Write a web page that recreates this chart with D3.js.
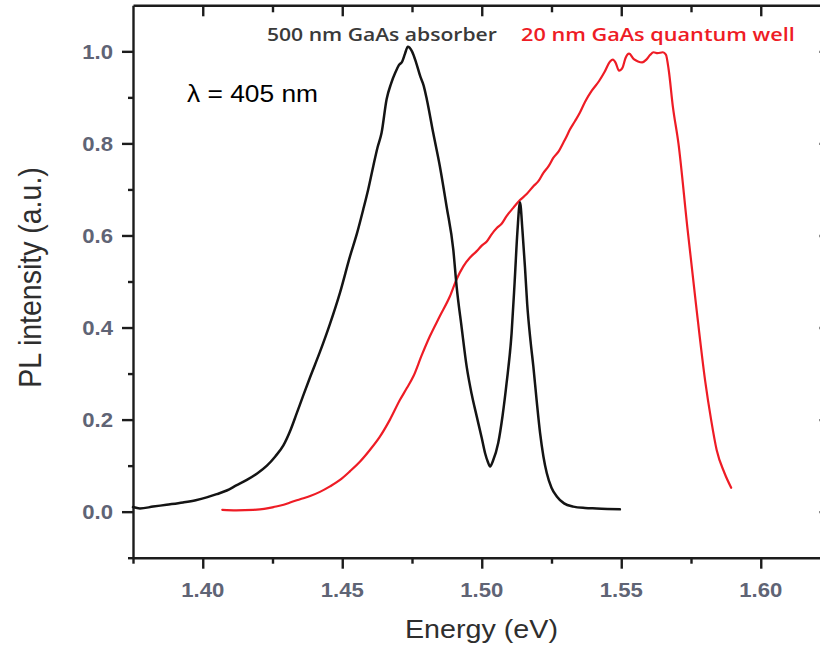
<!DOCTYPE html>
<html>
<head>
<meta charset="utf-8">
<script src="https://cdn.jsdelivr.net/npm/d3@7"></script>
<style>
  html, body { margin: 0; padding: 0; background: #fff; }
  svg { display: block; }
</style>
</head>
<body>
<div id="chart"></div>
<script>
// PL spectra under 405 nm excitation: thick GaAs absorber vs. 20 nm GaAs quantum well
const absorberEnergy = [
  1.3750, 1.3775, 1.3822, 1.3870, 1.3929, 1.3975, 1.4014, 1.4050, 1.4086, 1.4120,
  1.4158, 1.4195, 1.4230, 1.4260, 1.4289, 1.4315, 1.4337, 1.4360, 1.4384, 1.4420,
  1.4456, 1.4492, 1.4528, 1.4553, 1.4575, 1.4593, 1.4611, 1.4626, 1.4641, 1.4659,
  1.4675, 1.4691, 1.4703, 1.4715, 1.4725, 1.4735, 1.4750, 1.4765, 1.4780, 1.4792,
  1.4803, 1.4826, 1.4850, 1.4874, 1.4898, 1.4910, 1.4928, 1.4946, 1.4964, 1.4982,
  1.5000, 1.5012, 1.5022, 1.5030, 1.5040, 1.5059, 1.5075, 1.5089, 1.5107, 1.5118,
  1.5128, 1.5137, 1.5146, 1.5155, 1.5163, 1.5175, 1.5185, 1.5197, 1.5209, 1.5221,
  1.5233, 1.5250, 1.5269, 1.5295, 1.5328, 1.5370, 1.5412, 1.5450, 1.5495
];
const absorberIntensity = [
  0.010, 0.007, 0.011, 0.015, 0.020, 0.025, 0.031, 0.038, 0.046, 0.057,
  0.069, 0.083, 0.100, 0.120, 0.144, 0.178, 0.214, 0.252, 0.291, 0.347,
  0.408, 0.476, 0.555, 0.605, 0.656, 0.700, 0.750, 0.790, 0.823, 0.896,
  0.930, 0.955, 0.970, 0.978, 0.995, 1.010, 1.000, 0.975, 0.945, 0.925,
  0.896, 0.823, 0.750, 0.663, 0.569, 0.489, 0.400, 0.315, 0.255, 0.207,
  0.160, 0.127, 0.108, 0.098, 0.110, 0.149, 0.210, 0.279, 0.388, 0.500,
  0.610, 0.672, 0.610, 0.530, 0.450, 0.370, 0.315, 0.240, 0.171, 0.120,
  0.084, 0.052, 0.033, 0.018, 0.011, 0.008, 0.007, 0.006, 0.005
];

const wellEnergy = [
  1.4070, 1.4120, 1.4181, 1.4220, 1.4253, 1.4290, 1.4313, 1.4349, 1.4385, 1.4420,
  1.4456, 1.4492, 1.4528, 1.4564, 1.4599, 1.4635, 1.4671, 1.4707, 1.4731, 1.4755,
  1.4785, 1.4814, 1.4850, 1.4886, 1.4910, 1.4934, 1.4958, 1.4982, 1.5000, 1.5018,
  1.5036, 1.5054, 1.5072, 1.5089, 1.5113, 1.5137, 1.5161, 1.5185, 1.5203, 1.5221,
  1.5239, 1.5257, 1.5275, 1.5292, 1.5304, 1.5316, 1.5334, 1.5352, 1.5370, 1.5395,
  1.5420, 1.5440, 1.5460, 1.5470, 1.5480, 1.5492, 1.5505, 1.5515, 1.5528, 1.5545,
  1.5560, 1.5575, 1.5590, 1.5603, 1.5616, 1.5630, 1.5649, 1.5660, 1.5670, 1.5685,
  1.5705, 1.5737, 1.5768, 1.5801, 1.5822, 1.5842, 1.5870, 1.5894
];
const wellIntensity = [
  0.004, 0.003, 0.004, 0.006, 0.010, 0.015, 0.020, 0.027, 0.034, 0.043,
  0.055, 0.069, 0.088, 0.109, 0.134, 0.163, 0.200, 0.243, 0.268, 0.294,
  0.340, 0.381, 0.425, 0.468, 0.505, 0.533, 0.552, 0.566, 0.578, 0.587,
  0.603, 0.616, 0.626, 0.642, 0.660, 0.677, 0.690, 0.707, 0.718, 0.736,
  0.750, 0.769, 0.782, 0.801, 0.815, 0.830, 0.848, 0.867, 0.890, 0.915,
  0.935, 0.955, 0.978, 0.982, 0.975, 0.958, 0.965, 0.985, 0.995, 0.983,
  0.978, 0.976, 0.982, 0.992, 0.998, 0.996, 0.998, 0.993, 0.960, 0.880,
  0.800, 0.617, 0.450, 0.283, 0.200, 0.134, 0.084, 0.052
];

const xMajorTicks = [1.40, 1.45, 1.50, 1.55, 1.60];
const xMinorTicks = [1.375, 1.425, 1.475, 1.525, 1.575, 1.625];
const yMajorTicks = [0.0, 0.2, 0.4, 0.6, 0.8, 1.0];
const yMinorTicks = [-0.1, 0.1, 0.3, 0.5, 0.7, 0.9];
const seriesNames = ["500 nm GaAs absorber", "20 nm GaAs quantum well"];
const seriesColors = ["#141414", "#ee1c25"];
const annotation = "λ = 405 nm";
const xTitle = "Energy (eV)";
const yTitle = "PL intensity (a.u.)";

const W = 820, H = 649;
const svg = d3.select("#chart").append("svg")
  .attr("width", W).attr("height", H)
  .attr("viewBox", `0 0 ${W} ${H}`);

// Frame: the right-hand edge of the frame sits just outside the page
const x = d3.scaleLinear().domain([1.375, 1.625]).range([133, 830.5]);
const y = d3.scaleLinear().domain([-0.1, 1.1]).range([557.7, 5.3]);

const ARIAL = "'Liberation Sans', Arial, sans-serif";
const HUMANIST = "'Open Sans', 'Noto Sans', sans-serif";
const AXIS_COLOR = "#1c1c1c";
const TICK_TEXT = "#5f6475";

// Text drawn at its natural height, then stretched sideways to the given width
function stretchedText(parent, opts) {
  const t = parent.append("text")
    .attr("font-family", opts.family)
    .attr("font-size", opts.size)
    .attr("font-weight", opts.weight || "normal")
    .attr("fill", opts.fill)
    .attr("text-anchor", opts.anchor || "start")
    .text(opts.text);
  const natural = t.node().getComputedTextLength();
  const k = opts.width ? opts.width / natural : (opts.k || 1.12);
  t.attr("transform", `translate(${opts.x},${opts.y}) scale(${k},1)`);
  return t;
}

function styleAxis(g) {
  g.selectAll("path, line").attr("stroke", AXIS_COLOR).attr("stroke-width", 2.4);
  g.selectAll("text").remove();
}

// Left axis: outward ticks
svg.append("g").attr("transform", `translate(${x.range()[0]},0)`)
  .call(d3.axisLeft(y).tickValues(yMajorTicks).tickSize(11).tickSizeOuter(0))
  .call(styleAxis);
svg.append("g").attr("transform", `translate(${x.range()[0]},0)`)
  .call(d3.axisLeft(y).tickValues(yMinorTicks).tickSize(5).tickSizeOuter(0))
  .call(styleAxis).select(".domain").remove();

// Right axis: inward ticks
svg.append("g").attr("transform", `translate(${x.range()[1]},0)`)
  .call(d3.axisRight(y).tickValues(yMajorTicks).tickSize(-11).tickSizeOuter(0))
  .call(styleAxis);

// Bottom axis: outward ticks
svg.append("g").attr("transform", `translate(0,${y.range()[0]})`)
  .call(d3.axisBottom(x).tickValues(xMajorTicks).tickSize(11).tickSizeOuter(0))
  .call(styleAxis);
svg.append("g").attr("transform", `translate(0,${y.range()[0]})`)
  .call(d3.axisBottom(x).tickValues(xMinorTicks).tickSize(6).tickSizeOuter(0))
  .call(styleAxis).select(".domain").remove();

// Top axis: inward ticks
svg.append("g").attr("transform", `translate(0,${y.range()[1]})`)
  .call(d3.axisTop(x).tickValues(xMajorTicks).tickSize(-11).tickSizeOuter(0))
  .call(styleAxis);
svg.append("g").attr("transform", `translate(0,${y.range()[1]})`)
  .call(d3.axisTop(x).tickValues(xMinorTicks.filter(v => v > 1.38)).tickSize(-7).tickSizeOuter(0))
  .call(styleAxis).select(".domain").remove();

// Tick labels
const yFmt = d3.format(".1f"), xFmt = d3.format(".2f");
yMajorTicks.forEach(v => {
  stretchedText(svg, { text: yFmt(v), x: 113, y: y(v) + 7.5, size: 20.5, weight: "bold",
    family: ARIAL, fill: TICK_TEXT, anchor: "end", k: 1.08 });
});
xMajorTicks.forEach(v => {
  stretchedText(svg, { text: xFmt(v), x: x(v), y: 596.5, size: 20.5, weight: "bold",
    family: ARIAL, fill: TICK_TEXT, anchor: "middle", k: 1.08 });
});

// Axis titles
stretchedText(svg, { text: xTitle, x: 405, y: 638, size: 25, family: ARIAL,
  fill: "#2e2e2e", width: 153 });
svg.append("text")
  .attr("font-family", ARIAL).attr("font-size", 28.5).attr("fill", "#2e2e2e")
  .attr("text-anchor", "middle")
  .attr("transform", `translate(40.5,277.5) scale(1.1,1) rotate(-90)`)
  .text(yTitle);

// Spectra
const line = d3.line()
  .x(d => x(d[0])).y(d => y(d[1]))
  .curve(d3.curveMonotoneX);
const absorber = absorberEnergy.map((e, i) => [e, absorberIntensity[i]]);
const well = wellEnergy.map((e, i) => [e, wellIntensity[i]]);

svg.append("path").datum(well)
  .attr("d", line).attr("fill", "none")
  .attr("stroke", seriesColors[1]).attr("stroke-width", 2.2)
  .attr("stroke-linejoin", "round").attr("stroke-linecap", "round");
svg.append("path").datum(absorber)
  .attr("d", line).attr("fill", "none")
  .attr("stroke", seriesColors[0]).attr("stroke-width", 2.5)
  .attr("stroke-linejoin", "round").attr("stroke-linecap", "round");

// Series names and excitation note
stretchedText(svg, { text: seriesNames[0], x: 267, y: 41, size: 18.5, weight: 600,
  family: HUMANIST, fill: "#3a3a3a", width: 230 });
stretchedText(svg, { text: seriesNames[1], x: 521, y: 41, size: 18.5, weight: 600,
  family: HUMANIST, fill: seriesColors[1], width: 274 });
stretchedText(svg, { text: annotation, x: 187, y: 102, size: 23, family: ARIAL,
  fill: "#000", width: 131 });
</script>
</body>
</html>
